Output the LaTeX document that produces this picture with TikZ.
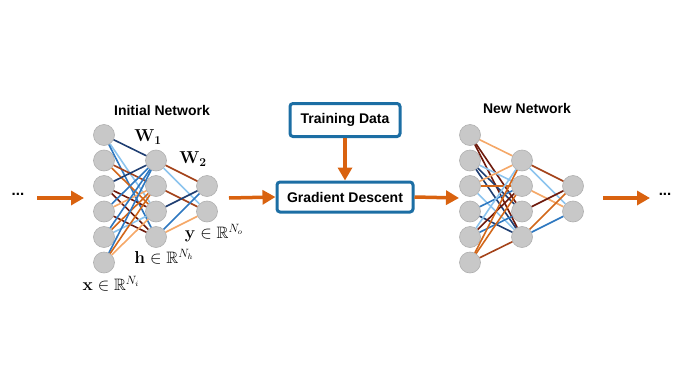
\documentclass[tikz,border=0pt]{standalone}
\usepackage{amsmath,amssymb}
\usepackage[no-math]{fontspec}
\setmainfont{Liberation Sans}
\usetikzlibrary{arrows.meta}
\definecolor{arrorange}{HTML}{D9620F}
\definecolor{boxblue}{HTML}{1C6EA4}
\definecolor{nodegray}{HTML}{C8C8C8}
\definecolor{nodeedge}{HTML}{AFAFAF}
\definecolor{cnavy}{HTML}{1F3E72}
\definecolor{cmed}{HTML}{2E78C0}
\definecolor{clight}{HTML}{8CC4EE}
\definecolor{cmaroon}{HTML}{6E1A0C}
\definecolor{cbrown}{HTML}{A4431A}
\definecolor{corange}{HTML}{D2671A}
\definecolor{clorange}{HTML}{F5A868}
\tikzset{
  neuron/.style={circle,fill=nodegray,draw=nodeedge,line width=0.6pt,minimum size=21pt,inner sep=0pt},
  wt/.style={line width=1.6pt},
  bigarrow/.style={draw=arrorange,line width=3.5pt,-{Triangle[length=13pt,width=14pt]}},
  procbox/.style={draw=boxblue,line width=3pt,rounded corners=3pt,fill=white,
    font=\fontsize{14}{16}\selectfont\bfseries,inner sep=0pt},
  title/.style={font=\fontsize{14}{16}\selectfont\bfseries},
  mlabel/.style={font=\fontsize{16.5}{18}\selectfont,inner sep=0pt},
  dots/.style={font=\fontsize{15}{17}\selectfont\bfseries,inner sep=0pt}
}
\begin{document}
\begin{tikzpicture}[x=1pt,y=-1pt]
\useasboundingbox (0,0) rectangle (680,383);
% ---------- initial network ----------
\foreach \k/\yy in {1/135,2/160.5,3/186,4/211.5,5/237,6/262.5}
  \node[neuron] (a\k) at (104,\yy) {};
\foreach \k/\yy in {1/160.5,2/186,3/211.5,4/237}
  \node[neuron] (b\k) at (156,\yy) {};
\foreach \k/\yy in {1/186,2/211.5}
  \node[neuron] (c\k) at (207,\yy) {};
\foreach \s/\t/\c in {a1/b1/cnavy,a1/b3/clight,a1/b4/cmed,
  a2/b2/cbrown,a2/b3/corange,
  a3/b1/cnavy,a3/b3/cmaroon,a3/b4/cmaroon,
  a4/b2/clorange,a4/b1/cmed,a4/b4/cmaroon,
  a5/b1/cmed,a5/b2/corange,a5/b3/clight,
  a6/b1/cmed,a6/b2/corange,a6/b3/clorange,
  b1/c1/cbrown,b1/c2/clight,b2/c2/cbrown,b3/c1/cnavy,b4/c1/cmed,b4/c2/clorange}
  \draw[wt,\c] (\s) -- (\t);
\node[title] (t1) at (162,110) {Initial Network};
\node[mlabel] (w1) at (148,137) {$\mathbf{W_1}$};
\node[mlabel] (w2) at (193,159) {$\mathbf{W_2}$};
\node[mlabel] (ly) at (214,233) {$\mathbf{y}\in\mathbb{R}^{N_o}$};
\node[mlabel] (lh) at (164,257) {$\mathbf{h}\in\mathbb{R}^{N_h}$};
\node[mlabel] (lx) at (111,284) {$\mathbf{x}\in\mathbb{R}^{N_i}$};
% ---------- new network ----------
\foreach \k/\yy in {1/135,2/160.5,3/186,4/211.5,5/237,6/262.5}
  \node[neuron] (d\k) at (470,\yy) {};
\foreach \k/\yy in {1/160.5,2/186,3/211.5,4/237}
  \node[neuron] (e\k) at (522,\yy) {};
\foreach \k/\yy in {1/186,2/211.5}
  \node[neuron] (f\k) at (573,\yy) {};
\foreach \s/\t/\c in {d1/e1/clorange,d1/e3/cmaroon,d1/e4/cmaroon,
  d2/e2/clight,d2/e3/cnavy,d2/e4/cnavy,
  d3/e1/clorange,d3/e4/clight,d3/e2/corange,
  d4/e2/cmed,d4/e4/cnavy,
  d5/e1/clight,d5/e2/cmaroon,d5/e3/cmed,
  d6/e1/corange,d6/e2/corange,d6/e4/cbrown,
  e1/f1/cbrown,e1/f2/clight,e2/f2/clorange,e3/f1/cmaroon,e4/f1/corange,e4/f2/cmed}
  \draw[wt,\c] (\s) -- (\t);
\node[title] (t2) at (527,108) {New Network};
% ---------- boxes ----------
\node[procbox,minimum width=110pt,minimum height=33pt] (td) at (345,120) {Training Data};
\node[procbox,minimum width=136pt,minimum height=30pt] (gd) at (345,197) {Gradient Descent};
\draw[bigarrow] (td) -- (gd);
% ---------- flow arrows ----------
\node[dots] (ld) at (18,194) {...};
\node[dots] (rd) at (665,194) {...};
\coordinate (l1) at (37,198);
\coordinate (l2) at (84,198);
\coordinate (m1) at (229,198);
\coordinate (r2) at (459,198);
\coordinate (s1) at (603,198);
\coordinate (s2) at (650,198);
\draw[bigarrow] (l1) -- (l2);
\draw[bigarrow] (m1) -- (gd.west);
\draw[bigarrow] (gd.east) -- (r2);
\draw[bigarrow] (s1) -- (s2);
\end{tikzpicture}
\end{document}
